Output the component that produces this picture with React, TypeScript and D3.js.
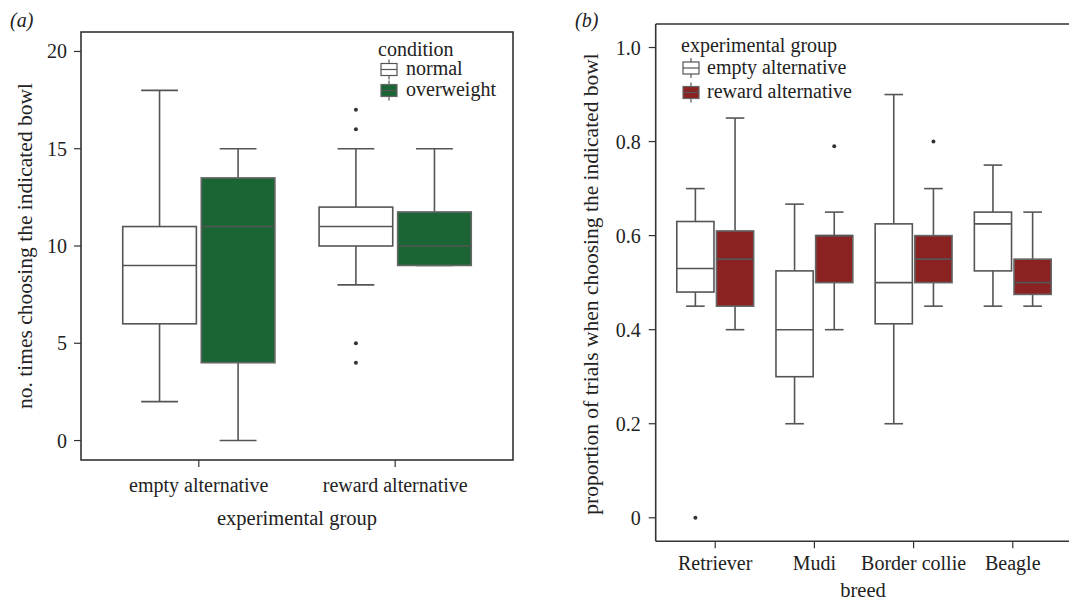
import React from "react";
import * as d3 from "d3";

// ---------- Data ----------
// Panel (a)
const groupsA = ["empty alternative", "reward alternative"];
const conditionsA = ["normal", "overweight"];
// [lowerWhisker, Q1, median, Q3, upperWhisker] per experimental group
const normalA = [
  [2, 6, 9, 11, 18],
  [8, 10, 11, 12, 15],
];
const normalAOut = [[], [17, 16, 5, 4]];
const overweightA = [
  [0, 4, 11, 13.5, 15],
  [9, 9, 10, 11.75, 15],
];
const overweightAOut = [[], []];
const yTicksA = [0, 5, 10, 15, 20];

// Panel (b)
const breedsB = ["Retriever", "Mudi", "Border collie", "Beagle"];
const groupsB = ["empty alternative", "reward alternative"];
const emptyB = [
  [0.45, 0.48, 0.53, 0.63, 0.7],
  [0.2, 0.3, 0.4, 0.525, 0.667],
  [0.2, 0.4125, 0.5, 0.625, 0.9],
  [0.45, 0.525, 0.625, 0.65, 0.75],
];
const emptyBOut = [[0], [], [], []];
const rewardB = [
  [0.4, 0.45, 0.55, 0.61, 0.85],
  [0.4, 0.5, 0.6, 0.6, 0.65],
  [0.45, 0.5, 0.55, 0.6, 0.7],
  [0.45, 0.475, 0.5, 0.55, 0.65],
];
const rewardBOut = [[], [0.79], [0.8], []];
const yTicksB = [0, 0.2, 0.4, 0.6, 0.8, 1.0];

// ---------- Style ----------
const FONT = "Liberation Serif, Tinos, Times New Roman, Times, DejaVu Serif, serif";
const TEXT = "#222";
const GREEN = "#1b6535";
const RED = "#8a2222";
const OPEN_STROKE = "#555";
const FILL_STROKE = "#666";
const AXIS = "#333";

type BoxProps = {
  cx: number;
  w: number;
  s: number[];
  out: number[];
  y: (v: number) => number;
  fill: string;
  stroke: string;
};

function Box({ cx, w, s, out, y, fill, stroke }: BoxProps) {
  const [lo, q1, med, q3, hi] = s;
  const cap = w / 2;
  return (
    <g>
      <line x1={cx} x2={cx} y1={y(hi)} y2={y(q3)} stroke={OPEN_STROKE} strokeWidth={1.6} />
      <line x1={cx} x2={cx} y1={y(q1)} y2={y(lo)} stroke={OPEN_STROKE} strokeWidth={1.6} />
      <line x1={cx - cap / 2} x2={cx + cap / 2} y1={y(hi)} y2={y(hi)} stroke={OPEN_STROKE} strokeWidth={1.6} />
      <line x1={cx - cap / 2} x2={cx + cap / 2} y1={y(lo)} y2={y(lo)} stroke={OPEN_STROKE} strokeWidth={1.6} />
      <rect x={cx - w / 2} y={y(q3)} width={w} height={y(q1) - y(q3)} fill={fill} stroke={stroke} strokeWidth={1.6} />
      <line x1={cx - w / 2} x2={cx + w / 2} y1={y(med)} y2={y(med)} stroke={OPEN_STROKE} strokeWidth={1.6} />
      {out.map((o, i) => (
        <circle key={i} cx={cx} cy={y(o)} r={2} fill="#333" />
      ))}
    </g>
  );
}

function LegendKey({ x, y, fill, stroke }: { x: number; y: number; fill: string; stroke: string }) {
  const w = 16, h = 12;
  return (
    <g>
      <line x1={x + w / 2} x2={x + w / 2} y1={y - 4} y2={y + h + 4} stroke={OPEN_STROKE} strokeWidth={1.2} />
      <rect x={x} y={y} width={w} height={h} fill={fill} stroke={stroke} strokeWidth={1.2} />
      <line x1={x} x2={x + w} y1={y + h / 2} y2={y + h / 2} stroke={OPEN_STROKE} strokeWidth={1.2} />
    </g>
  );
}

function PanelA() {
  const left = 81, right = 513, top = 32, bottom = 460;
  const x = d3.scalePoint<string>().domain(groupsA).range([left, right]).padding(0.6);
  const step = x.step();
  const y = d3.scaleLinear().domain([-1, 21]).range([bottom, top]);
  const bw = step * 0.375;
  const off = step * 0.2;
  return (
    <g>
      <text x={10} y={27} fontFamily={FONT} fontSize={20} fontStyle="italic" fill={TEXT}>
        (<tspan>a</tspan>)
      </text>
      <rect x={left} y={top} width={right - left} height={bottom - top} fill="none" stroke={AXIS} strokeWidth={1.6} />
      {groupsA.map((g, i) => {
        const cx = x(g)!;
        return (
          <g key={g}>
            <Box cx={cx - off} w={bw} s={normalA[i]} out={normalAOut[i]} y={y} fill="#fff" stroke={OPEN_STROKE} />
            <Box cx={cx + off} w={bw} s={overweightA[i]} out={overweightAOut[i]} y={y} fill={GREEN} stroke={FILL_STROKE} />
          </g>
        );
      })}
      {yTicksA.map((t) => (
        <g key={t}>
          <line x1={left - 7} x2={left} y1={y(t)} y2={y(t)} stroke={AXIS} strokeWidth={1.2} />
          <text x={left - 14} y={y(t)} dy="0.35em" textAnchor="end" fontFamily={FONT} fontSize={20} fill={TEXT}>
            {t}
          </text>
        </g>
      ))}
      {groupsA.map((g) => (
        <g key={g}>
          <line x1={x(g)!} x2={x(g)!} y1={bottom} y2={bottom + 7} stroke={AXIS} strokeWidth={1.2} />
          <text x={x(g)!} y={492} textAnchor="middle" fontFamily={FONT} fontSize={20} fill={TEXT}>
            {g}
          </text>
        </g>
      ))}
      <text x={(left + right) / 2} y={525} textAnchor="middle" fontFamily={FONT} fontSize={20.5} fill={TEXT}>
        experimental group
      </text>
      <text
        transform={`translate(32,${(top + bottom) / 2}) rotate(-90)`}
        textAnchor="middle"
        fontFamily={FONT}
        fontSize={21.5}
        fill={TEXT}
      >
        no. times choosing the indicated bowl
      </text>
      {/* legend */}
      <text x={378} y={55.5} fontFamily={FONT} fontSize={20} fill={TEXT}>condition</text>
      {conditionsA.map((c, i) => (
        <g key={c}>
          <LegendKey x={381} y={63.5 + i * 21} fill={i === 0 ? "#fff" : GREEN} stroke={i === 0 ? OPEN_STROKE : FILL_STROKE} />
          <text x={406} y={75 + i * 21} fontFamily={FONT} fontSize={20} fill={TEXT}>{c}</text>
        </g>
      ))}
    </g>
  );
}

function PanelB() {
  const left = 655.7, right = 1072.3, top = 24, bottom = 541.3;
  const x = d3.scalePoint<string>().domain(breedsB).range([left, right]).padding(0.6);
  const step = x.step();
  const y = d3.scaleLinear().domain([-0.05, 1.05]).range([bottom, top]);
  const bw = step * 0.375;
  const off = step * 0.2;
  const fmt = (t: number) => (t === 0 ? "0" : d3.format(".1f")(t));
  return (
    <g>
      <text x={575} y={27} fontFamily={FONT} fontSize={20} fontStyle="italic" fill={TEXT}>
        (<tspan>b</tspan>)
      </text>
      <line x1={left} x2={1080} y1={top} y2={top} stroke={AXIS} strokeWidth={1.6} />
      <line x1={left} x2={1080} y1={bottom} y2={bottom} stroke={AXIS} strokeWidth={1.6} />
      <line x1={left} x2={left} y1={top} y2={bottom} stroke={AXIS} strokeWidth={1.6} />
      {breedsB.map((b, i) => {
        const cx = x(b)!;
        return (
          <g key={b}>
            <Box cx={cx - off} w={bw} s={emptyB[i]} out={emptyBOut[i]} y={y} fill="#fff" stroke={OPEN_STROKE} />
            <Box cx={cx + off} w={bw} s={rewardB[i]} out={rewardBOut[i]} y={y} fill={RED} stroke={FILL_STROKE} />
          </g>
        );
      })}
      {yTicksB.map((t) => (
        <g key={t}>
          <line x1={left - 7} x2={left} y1={y(t)} y2={y(t)} stroke={AXIS} strokeWidth={1.2} />
          <text x={left - 15} y={y(t)} dy="0.35em" textAnchor="end" fontFamily={FONT} fontSize={20} fill={TEXT}>
            {fmt(t)}
          </text>
        </g>
      ))}
      {breedsB.map((b) => (
        <g key={b}>
          <line x1={x(b)!} x2={x(b)!} y1={bottom} y2={bottom + 7} stroke={AXIS} strokeWidth={1.2} />
          <text x={x(b)!} y={570} textAnchor="middle" fontFamily={FONT} fontSize={20} fill={TEXT}>
            {b}
          </text>
        </g>
      ))}
      <text x={863} y={597} textAnchor="middle" fontFamily={FONT} fontSize={20.5} fill={TEXT}>
        breed
      </text>
      <text
        transform={`translate(597.5,${284}) rotate(-90)`}
        textAnchor="middle"
        fontFamily={FONT}
        fontSize={21.5}
        fill={TEXT}
      >
        proportion of trials when choosing the indicated bowl
      </text>
      {/* legend */}
      <text x={681} y={52} fontFamily={FONT} fontSize={20} fill={TEXT}>experimental group</text>
      {groupsB.map((g, i) => (
        <g key={g}>
          <LegendKey x={683} y={62 + i * 24.5} fill={i === 0 ? "#fff" : RED} stroke={i === 0 ? OPEN_STROKE : FILL_STROKE} />
          <text x={707} y={73.5 + i * 24.5} fontFamily={FONT} fontSize={20} fill={TEXT}>{g}</text>
        </g>
      ))}
    </g>
  );
}

export default function App() {
  return (
    <div style={{ position: "fixed", left: 0, top: 0 }}>
      <svg width={1069} height={601} style={{ display: "block", background: "#fff" }}>
        <PanelA />
        <PanelB />
      </svg>
    </div>
  );
}
